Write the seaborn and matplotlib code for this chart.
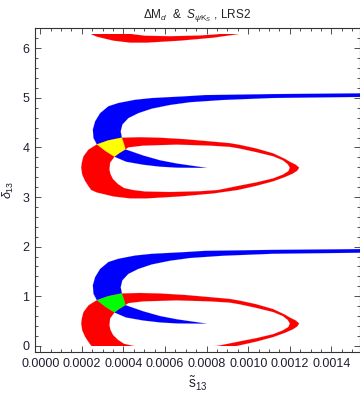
import numpy as np
import pandas as pd
import matplotlib
matplotlib.use("Agg")
import matplotlib.pyplot as plt
from matplotlib.path import Path
from matplotlib.patches import PathPatch, Rectangle
from matplotlib.ticker import MultipleLocator
import seaborn as sns

# ---------------- data ----------------
# blue region (S_psiKS constraint), one period, boundary points
blue_s13 = [0.00170, 0.001520, 0.001118, 0.000792, 0.000696, 0.000536, 0.000456,
            0.000376, 0.000328, 0.000288, 0.000264, 0.000253, 0.000256, 0.000272,
            0.000312, 0.000357, 0.000413, 0.000494, 0.000576, 0.000658, 0.000802,
            0.000768, 0.000656, 0.000576, 0.000496, 0.000410, 0.000403, 0.000394,
            0.000387, 0.000395, 0.000424, 0.000472, 0.000536, 0.000624, 0.000720,
            0.000878, 0.001118, 0.001520, 0.00170]
blue_delta = [1.960, 1.950, 1.935, 1.915, 1.890, 1.855, 1.820,
              1.755, 1.690, 1.550, 1.385, 1.220, 1.050, 0.920,
              0.790, 0.670, 0.570, 0.510, 0.470, 0.450, 0.445,
              0.467, 0.535, 0.600, 0.695, 0.820, 0.930, 1.040,
              1.180, 1.320, 1.450, 1.550, 1.640, 1.715, 1.770,
              1.815, 1.855, 1.875, 1.880]

# red region (Delta M_d constraint), one period: outer and inner boundary
red_outer_s13 = [0.000272, 0.000326, 0.000389, 0.000480, 0.000576, 0.000696, 0.000792,
                 0.000912, 0.000960, 0.001037, 0.001120, 0.001176, 0.001200, 0.001229,
                 0.001245, 0.001236, 0.001214, 0.001176, 0.001120, 0.001040, 0.000950,
                 0.000832, 0.000672, 0.000512, 0.000432, 0.000352, 0.000272, 0.000245,
                 0.000232, 0.000216, 0.000202, 0.000197, 0.000200, 0.000208, 0.000232]
red_outer_delta = [0.920, 1.000, 1.055, 1.065, 1.055, 1.025, 0.990,
                   0.945, 0.910, 0.840, 0.740, 0.630, 0.570, 0.510,
                   0.450, 0.390, 0.330, 0.260, 0.175, 0.085, 0.000,
                   -0.070, -0.130, -0.170, -0.170, -0.130, -0.050, 0.000,
                   0.077, 0.180, 0.310, 0.450, 0.550, 0.680, 0.815]
red_inner_s13 = [0.000357, 0.000336, 0.000333, 0.000338, 0.000350, 0.000374, 0.000403,
                 0.000446, 0.000504, 0.000624, 0.000768, 0.000854, 0.000896, 0.000960,
                 0.001040, 0.001120, 0.001166, 0.001193, 0.001200, 0.001190, 0.001166,
                 0.001120, 0.001037, 0.000960, 0.000912, 0.000816, 0.000656, 0.000496,
                 0.000424, 0.000410, 0.000379]
red_inner_delta = [0.670, 0.550, 0.410, 0.320, 0.220, 0.120, 0.040,
                   0.000, -0.030, -0.040, -0.025, 0.000, 0.035, 0.090,
                   0.155, 0.235, 0.310, 0.380, 0.450, 0.520, 0.600,
                   0.680, 0.765, 0.835, 0.870, 0.895, 0.915, 0.895,
                   0.860, 0.820, 0.740]

# the constraints repeat with period pi in delta_13
blue_shifts = [0.0, np.pi]
red_shifts = [0.0, np.pi, 2 * np.pi]
overlap_colors = ["#00ff00", "#ffff00"]
delta_domain = (0.0, 2 * np.pi)

x_ticks = [0.0000, 0.0002, 0.0004, 0.0006, 0.0008, 0.0010, 0.0012, 0.0014]
x_tick_labels = ["0.0000", "0.0002", "0.0004", "0.0006", "0.0008", "0.0010", "0.0012", "0.0014"]
y_ticks = [0, 1, 2, 3, 4, 5, 6]
y_tick_labels = ["0", "1", "2", "3", "4", "5", "6"]

title_text = r"$\Delta\mathrm{M}_{d}$  &  $S_{\psi\mathrm{K}_{S}}$ , LRS2"
x_label = r"$\tilde{\mathrm{s}}_{13}$"
y_label = r"$\delta_{13}$"

# ---------------- style ----------------
sns.set_theme(style="ticks")
plt.rcParams["font.family"] = ["Liberation Sans", "DejaVu Sans"]
plt.rcParams["mathtext.fontset"] = "custom"
plt.rcParams["mathtext.rm"] = "Liberation Sans"
plt.rcParams["mathtext.it"] = "Liberation Sans:italic"
plt.rcParams["mathtext.bf"] = "Liberation Sans:bold"

fig = plt.figure(figsize=(3.6, 3.94), dpi=100)
ax = fig.add_axes([35 / 360, 1 - 352 / 394, 324.5 / 360, 324 / 394])

domain_clip = Rectangle((-1.0, delta_domain[0]), 2.0, delta_domain[1] - delta_domain[0],
                        transform=ax.transData)


def ring_path(ox, oy, ix, iy):
    outer = np.column_stack([ox, oy])
    inner = np.column_stack([ix, iy])

    def area(p):
        return 0.5 * np.sum(p[:, 0] * np.roll(p[:, 1], -1) - np.roll(p[:, 0], -1) * p[:, 1])

    if np.sign(area(outer)) == np.sign(area(inner)):
        inner = inner[::-1]
    verts = np.vstack([outer, outer[:1], inner, inner[:1]])
    codes = ([Path.MOVETO] + [Path.LINETO] * (len(outer) - 1) + [Path.CLOSEPOLY] +
             [Path.MOVETO] + [Path.LINETO] * (len(inner) - 1) + [Path.CLOSEPOLY])
    return Path(verts, codes)


def poly_path(x, y):
    p = np.column_stack([x, y])
    verts = np.vstack([p, p[:1]])
    codes = [Path.MOVETO] + [Path.LINETO] * (len(p) - 1) + [Path.CLOSEPOLY]
    return Path(verts, codes)


edge_kw = dict(color="#b8b8b8", lw=0.3, alpha=0.3, sort=False, estimator=None, legend=False)

blue_x = np.array(blue_s13)
blue_y = np.array(blue_delta)
rox, roy = np.array(red_outer_s13), np.array(red_outer_delta)
rix, riy = np.array(red_inner_s13), np.array(red_inner_delta)

blue_patches = []
for s in blue_shifts:
    bp = PathPatch(poly_path(blue_x, blue_y + s), facecolor="#0000ff", edgecolor="none",
                   lw=0, zorder=2, transform=ax.transData)
    ax.add_patch(bp)
    blue_patches.append(bp)
    sns.lineplot(x=np.append(blue_x, blue_x[0]), y=np.append(blue_y, blue_y[0]) + s,
                 ax=ax, zorder=5, **edge_kw)

for s in red_shifts:
    rp = PathPatch(ring_path(rox, roy + s, rix, riy + s), facecolor="#ff0000",
                   edgecolor="none", lw=0, zorder=3, transform=ax.transData)
    ax.add_patch(rp)
    rp.set_clip_path(domain_clip)
    for bx, by in ((rox, roy), (rix, riy)):
        n_before = len(ax.lines)
        sns.lineplot(x=np.append(bx, bx[0]), y=np.append(by, by[0]) + s,
                     ax=ax, zorder=5, **edge_kw)
        for ln in ax.lines[n_before:]:
            ln.set_clip_path(domain_clip)

# overlap of the two constraints
for s, col, bp in zip(blue_shifts, overlap_colors, blue_patches):
    op = PathPatch(ring_path(rox, roy + s, rix, riy + s), facecolor=col,
                   edgecolor="none", lw=0, zorder=4, transform=ax.transData)
    ax.add_patch(op)
    op.set_clip_path(bp)

# ---------------- axes ----------------
ax.set_xlim(-0.000025, 0.001535)
ax.set_ylim(-0.1257, 6.4089)
ax.set_xticks(x_ticks)
ax.set_xticklabels(x_tick_labels)
ax.set_yticks(y_ticks)
ax.set_yticklabels(y_tick_labels)
ax.xaxis.set_minor_locator(MultipleLocator(0.00005))
ax.yaxis.set_minor_locator(MultipleLocator(0.2))
ax.tick_params(which="both", direction="in", top=True, right=True, color="#333333", width=0.6)
ax.tick_params(which="major", length=4.5)
ax.tick_params(which="minor", length=2.5)
ax.tick_params(axis="x", which="major", labelsize=9, pad=4.5, labelcolor="#1e1e30")
ax.tick_params(axis="y", which="major", labelsize=9, pad=4, labelcolor="#1e1e30")
for sp in ax.spines.values():
    sp.set_visible(True)
    sp.set_color("#333333")
    sp.set_linewidth(0.8)

ax.set_xlabel(x_label, fontsize=10, color="#1e1e30")
ax.xaxis.set_label_coords(0.5, -0.072)
ax.set_ylabel(y_label, fontsize=9, color="#1e1e30")
ax.yaxis.set_label_coords(-0.060, 0.5)
ax.set_title(title_text, fontsize=8.5, color="#222222", pad=7)

fig.savefig("out.png", dpi=100)
